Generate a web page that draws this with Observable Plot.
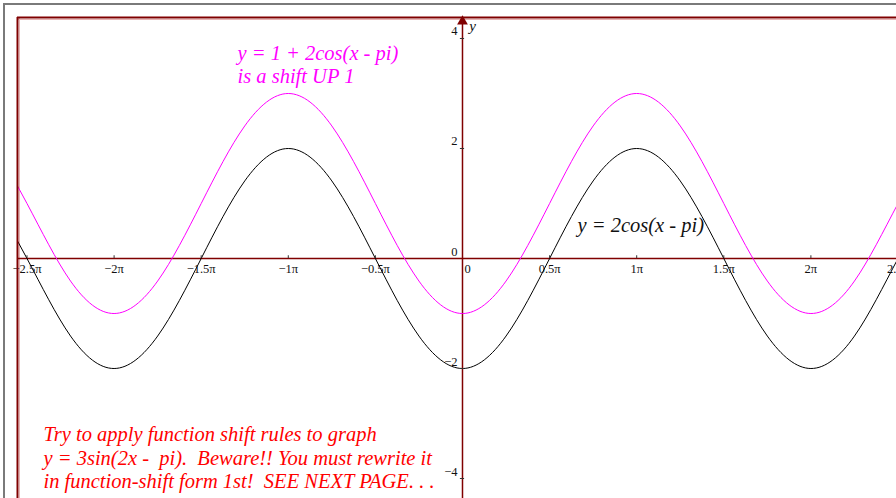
<!DOCTYPE html>
<html><head><meta charset="utf-8">
<script src="https://cdn.jsdelivr.net/npm/d3@7"></script>
<script src="https://cdn.jsdelivr.net/npm/@observablehq/plot@0.6"></script>
<style>
body{margin:0;background:#fff;}
#wrap{position:relative;width:896px;height:498px;overflow:hidden;}
#border{position:absolute;left:3px;top:3px;right:-10px;bottom:-10px;border-left:2px solid #7a7a7a;border-top:2px solid #7a7a7a;}
#chart{position:absolute;left:0;top:0;}
</style></head><body>
<div id="wrap"><div id="border"></div><div id="chart"></div></div>
<script>
// x positions in multiples of pi
const xPi = [-2.75,-2.5,-2.25,-2,-1.75,-1.5,-1.25,-1,-0.75,-0.5,-0.25,0,0.25,0.5,0.75,1,1.25,1.5,1.75,2,2.25,2.5,2.75];
// y = 2cos(x - pi) (black), values read at those x
const blackY = [1.41,0,-1.41,-2,-1.41,0,1.41,2,1.41,0,-1.41,-2,-1.41,0,1.41,2,1.41,0,-1.41,-2,-1.41,0,1.41];
// y = 1 + 2cos(x - pi) (magenta)
const magentaY = [2.41,1,-0.41,-1,-0.41,1,2.41,3,2.41,1,-0.41,-1,-0.41,1,2.41,3,2.41,1,-0.41,-1,-0.41,1,2.41];

const xTickVals = [-2.5,-2,-1.5,-1,-0.5,0.5,1,1.5,2,2.5];
const xTickLabels = ["−2.5π","−2π","−1.5π","−1π","−0.5π","0.5π","1π","1.5π","2π","2.5π"];
const yTickVals = [-4,-2,0,2,4];
const yTickLabels = ["−4","−2","0","2","4"];

const magentaNote = ["y = 1 + 2cos(x - pi)", "is a shift UP 1"];
const magentaNoteY = [3.727, 3.309];
const blackNote = ["y = 2cos(x - pi)"];
const redNote = ["Try to apply function shift rules to graph",
  "y = 3sin(2x -  pi).  Beware!! You must rewrite it",
  "in function-shift form 1st!  SEE NEXT PAGE. . ."];
const redNoteY = [-3.2, -3.636, -4.055];

const xDomain = [-2.5545, 2.4914];
const yDomain = [-4.3636, 4.3818];

const black = xPi.map((x,i)=>({x, y: blackY[i]}));
const magenta = xPi.map((x,i)=>({x, y: magentaY[i]}));
const serif = "Liberation Serif, Times New Roman, serif";
const axisRed = "#800000";

const chart = Plot.plot({
  width: 896, height: 498,
  marginLeft: 17, marginTop: 17, marginRight: 0, marginBottom: 0,
  x: {domain: xDomain, axis: null},
  y: {domain: yDomain, axis: null},
  style: {fontFamily: serif, background: "transparent", overflow: "visible"},
  marks: [
    Plot.ruleX([xDomain[0]], {stroke: "#e8b4b4", strokeWidth: 1, dx: 2}),
    Plot.ruleY([yDomain[1]], {stroke: "#e8b4b4", strokeWidth: 1, dy: 2}),
    Plot.ruleY([0], {stroke: axisRed, strokeWidth: 1.5}),
    Plot.ruleX([0], {stroke: axisRed, strokeWidth: 1.5}),
    Plot.line(magenta, {x: "x", y: "y", curve: "natural", stroke: "#ff00ff", strokeWidth: 1, clip: true}),
    Plot.line(black, {x: "x", y: "y", curve: "natural", stroke: "#000", strokeWidth: 1, clip: true}),
    Plot.ruleX(xTickVals, {x: d=>d, y1: 0, y2: 0.05, stroke: "#333", strokeWidth: 1}),
    Plot.ruleY(yTickVals.filter(d=>d!==0), {y: d=>d, x1: -0.012, x2: 0.012, stroke: "#333", strokeWidth: 1}),
    Plot.text(xTickVals, {x: d=>d, y: 0, text: (d,i)=>xTickLabels[i], dy: 10, fontSize: 12.5, fill: "#111"}),
    Plot.text(["0"], {x: 0, y: 0, text: d=>d, dy: 10, dx: 2, textAnchor: "start", fontSize: 12.5, fill: "#111"}),
    Plot.text(yTickVals, {x: 0, y: d=>d, text: (d,i)=>yTickLabels[i], dx: -5, dy: -7, textAnchor: "end", fontSize: 12.5, fill: "#111"}),
    Plot.dot([0], {x: 0, y: 4.31, symbol: "triangle", r: 4, fill: axisRed, stroke: "none"}),
    Plot.text(["y"], {x: 0, y: 4.218, text: d=>d, dx: 10, fontSize: 15, fontStyle: "italic", fill: "#111"}),
    Plot.ruleX([xDomain[0]], {stroke: axisRed, strokeWidth: 2}),
    Plot.ruleY([yDomain[1]], {stroke: axisRed, strokeWidth: 2}),
    Plot.text(magentaNote, {x: -1.2917, y: (d,i)=>magentaNoteY[i], text: d=>d, textAnchor: "start", fontSize: 20.5, fontStyle: "italic", fill: "#ff00ff"}),
    Plot.text(blackNote, {x: 0.660, y: 0.6, text: d=>d, textAnchor: "start", fontSize: 20.5, fontStyle: "italic", fill: "#111"}),
    Plot.text(redNote, {x: -2.4053, y: (d,i)=>redNoteY[i], text: d=>d, textAnchor: "start", fontSize: 20.5, fontStyle: "italic", fill: "#ff0000"})
  ]
});
document.getElementById("chart").appendChild(chart);
</script>
</body></html>
